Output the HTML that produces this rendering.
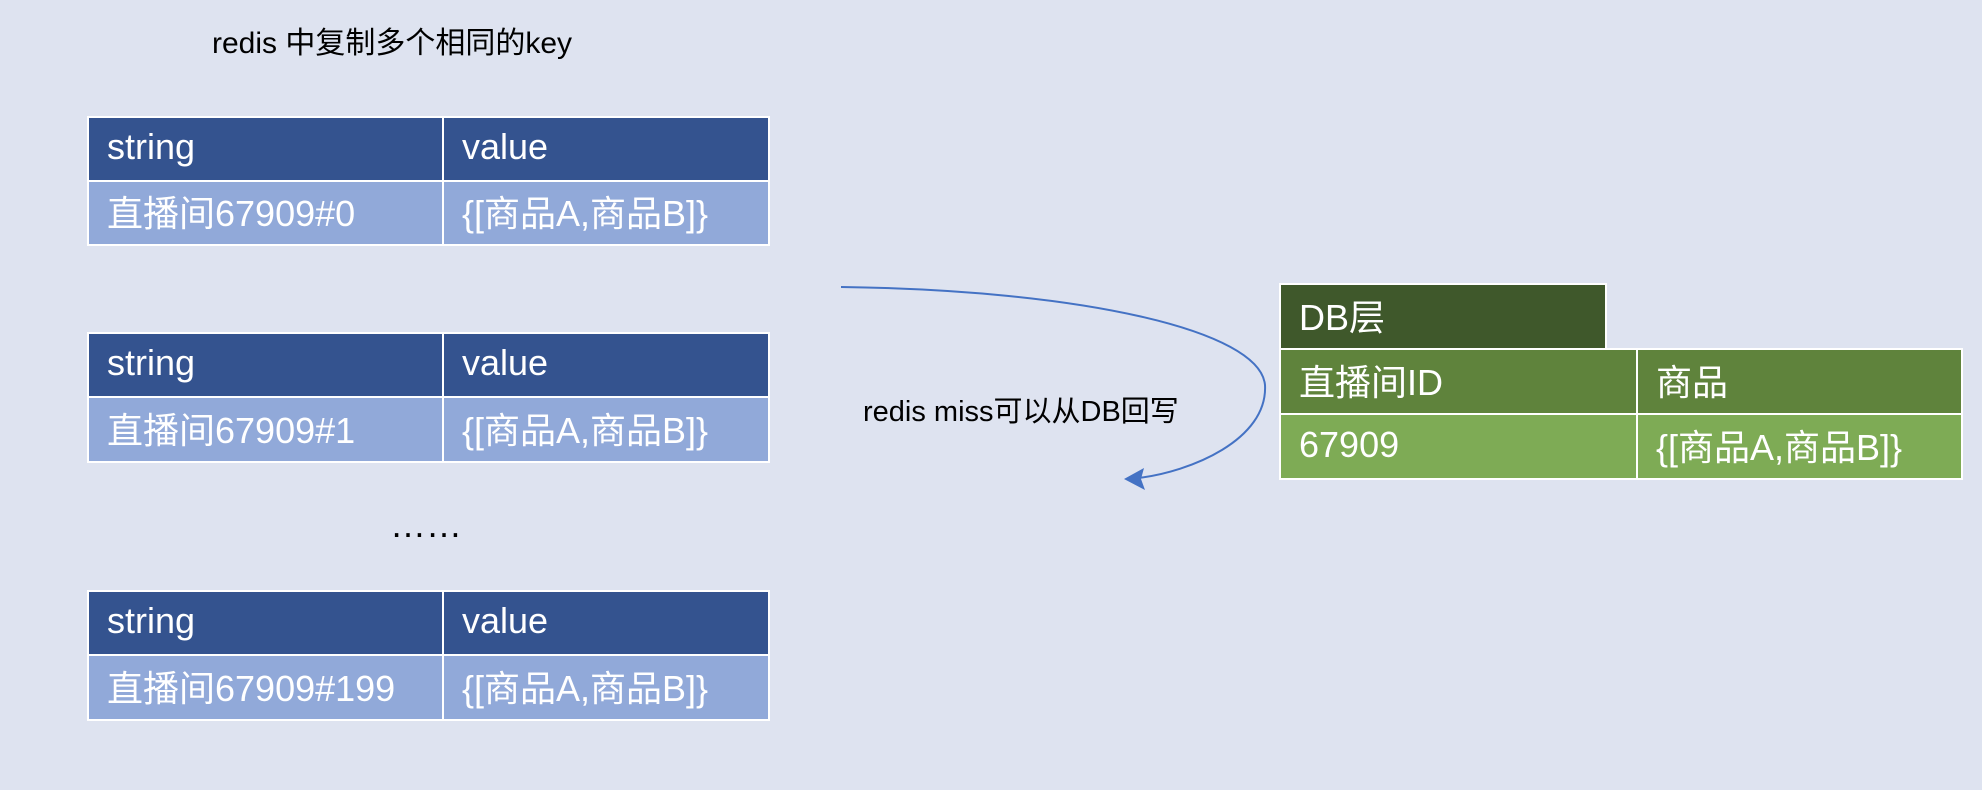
<!DOCTYPE html>
<html><head><meta charset="utf-8"><style>
body{margin:0;width:1982px;height:790px;background:#dee3f0;position:relative;overflow:hidden;font-family:"Liberation Sans","Noto Sans CJK SC",sans-serif}
.t{position:absolute;color:#000}
.c{position:absolute;box-sizing:border-box;border:2px solid #fff;color:#fff;font-size:36px;padding-left:18px;padding-bottom:4px;display:flex;align-items:center;white-space:nowrap}
.h{background:#34538f}.b{background:#91a9d9}
.d1{background:#3f582b}.d2{background:#5f833c}.d3{background:#7eab55}
</style></head><body>
<div class="t" style="left:212px;top:18px;font-size:30px">redis 中复制多个相同的key</div>

<div class="c h" style="left:87px;top:116px;width:357px;height:66px">string</div>
<div class="c h" style="left:442px;top:116px;width:328px;height:66px">value</div>
<div class="c b" style="left:87px;top:180px;width:357px;height:66px">直播间67909#0</div>
<div class="c b" style="left:442px;top:180px;width:328px;height:66px">{[商品A,商品B]}</div>

<div class="c h" style="left:87px;top:332px;width:357px;height:66px">string</div>
<div class="c h" style="left:442px;top:332px;width:328px;height:66px">value</div>
<div class="c b" style="left:87px;top:396px;width:357px;height:67px">直播间67909#1</div>
<div class="c b" style="left:442px;top:396px;width:328px;height:67px">{[商品A,商品B]}</div>

<div class="t" style="left:390px;top:504px;font-size:36px">……</div>

<div class="c h" style="left:87px;top:590px;width:357px;height:66px">string</div>
<div class="c h" style="left:442px;top:590px;width:328px;height:66px">value</div>
<div class="c b" style="left:87px;top:654px;width:357px;height:67px">直播间67909#199</div>
<div class="c b" style="left:442px;top:654px;width:328px;height:67px">{[商品A,商品B]}</div>

<div class="c d1" style="left:1279px;top:283px;width:328px;height:67px">DB层</div>
<div class="c d2" style="left:1279px;top:348px;width:359px;height:67px">直播间ID</div>
<div class="c d2" style="left:1636px;top:348px;width:327px;height:67px">商品</div>
<div class="c d3" style="left:1279px;top:413px;width:359px;height:67px">67909</div>
<div class="c d3" style="left:1636px;top:413px;width:327px;height:67px">{[商品A,商品B]}</div>

<div class="t" style="left:863px;top:388px;font-size:29px">redis miss可以从DB回写</div>

<svg style="position:absolute;left:0;top:0" width="1982" height="790">
<path d="M841 287 C1080 290 1260 330 1265 385 C1268 440 1190 472 1138 478" fill="none" stroke="#4472c4" stroke-width="2"/>
<polygon points="1124,479 1144,468 1141,479 1145,490" fill="#4472c4"/>
</svg>
</body></html>
